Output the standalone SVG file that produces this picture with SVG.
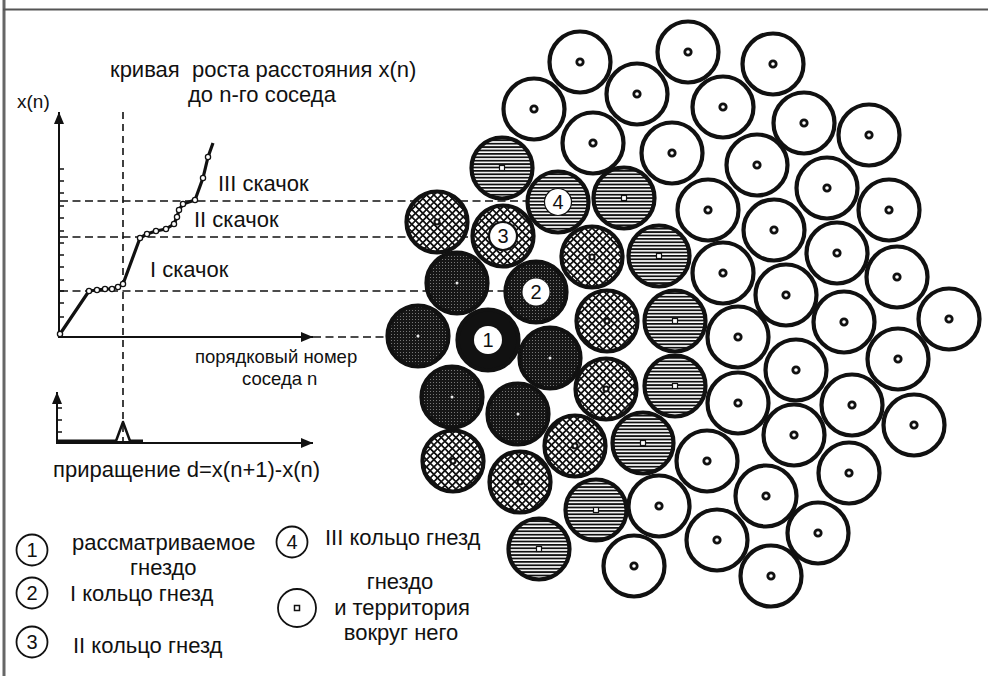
<svg xmlns="http://www.w3.org/2000/svg" width="988" height="676" viewBox="0 0 988 676">
<defs>
<style>
text{font-family:"Liberation Sans",Arial,sans-serif;fill:#111}
.t22{font-size:22px}
.t18{font-size:18.5px}
.t19{font-size:19px}
.num{font-size:20px;text-anchor:middle}
.ax{stroke:#111;stroke-width:2;fill:none}
.tk{stroke:#111;stroke-width:1.5}
.dash{stroke:#111;stroke-width:1.6;stroke-dasharray:8 4.5;fill:none}
.vdash{stroke:#111;stroke-width:1.6;stroke-dasharray:7 5;fill:none}
.ring{stroke:#111;stroke-width:4.2}
.w{fill:#fff}
.s{fill:url(#hs)}
.c{fill:url(#xh)}
.d{fill:url(#dk)}
.b{fill:#111}
.cw{fill:#fff;stroke:#111;stroke-width:2.8}
.cs{fill:#fff;stroke:#111;stroke-width:1.2}
.cc{fill:#fff;stroke:#111;stroke-width:2.2}
.cd{fill:#eee}
.lab{fill:#fff}
.lg{fill:#fff;stroke:#111;stroke-width:1.8}
.pt{fill:#fff;stroke:#111;stroke-width:1.3}
</style>
<pattern id="hs" width="6" height="3.4" patternUnits="userSpaceOnUse"><rect width="6" height="3.4" fill="#fff"/><rect width="6" height="1.8" fill="#111"/></pattern>
<pattern id="xh" width="5.2" height="5.2" patternUnits="userSpaceOnUse" patternTransform="rotate(45)"><rect width="5.2" height="5.2" fill="#fff"/><path d="M0 2.6H5.2M2.6 0V5.2" stroke="#111" stroke-width="1.7"/></pattern>
<pattern id="dk" width="3" height="3" patternUnits="userSpaceOnUse"><rect width="3" height="3" fill="#161616"/><rect x="1" y="1" width="1" height="1" fill="#777"/></pattern>
<marker id="ah" markerWidth="12" markerHeight="10" refX="12" refY="5" orient="auto" markerUnits="userSpaceOnUse"><path d="M0 0L12 5L0 10Z" fill="#111"/></marker>
</defs>
<rect width="988" height="676" fill="#fff"/>
<g id="frame">
<line x1="4" y1="0" x2="4" y2="676" stroke="#666" stroke-width="3"/>
<line x1="3" y1="9.5" x2="988" y2="9.5" stroke="#555" stroke-width="2"/>
</g>

<g id="connectors">
<line class="dash" x1="60" y1="201" x2="526" y2="201"/>
<line class="dash" x1="60" y1="237" x2="480" y2="237"/>
<line class="dash" x1="60" y1="291" x2="515" y2="291"/>
<line class="dash" x1="313" y1="337" x2="400" y2="337"/>
<line class="vdash" x1="123" y1="112" x2="123" y2="441"/>
</g>

<g id="chart">
<line class="ax" x1="59" y1="338" x2="59" y2="112" marker-end="url(#ah)"/>
<line class="ax" x1="58" y1="337" x2="313" y2="337" marker-end="url(#ah)"/>
<g class="tk">
<line x1="59" y1="169" x2="64" y2="169"/><line x1="59" y1="181" x2="64" y2="181"/><line x1="59" y1="193" x2="64" y2="193"/><line x1="59" y1="206" x2="64" y2="206"/><line x1="59" y1="218" x2="64" y2="218"/><line x1="59" y1="231" x2="64" y2="231"/><line x1="59" y1="243" x2="64" y2="243"/><line x1="59" y1="255" x2="64" y2="255"/><line x1="59" y1="267" x2="64" y2="267"/><line x1="59" y1="280" x2="64" y2="280"/><line x1="59" y1="291" x2="64" y2="291"/><line x1="59" y1="303" x2="64" y2="303"/><line x1="59" y1="317" x2="64" y2="317"/>
</g>
<polyline points="60,334 89,291 97,290 105,289 112,289 118,287 123,284 140,238 147,234 156,231 166,229 174,224 177,217 179,210 183,204 195,200 203,178 208,157 213,143" fill="none" stroke="#111" stroke-width="3.2" stroke-linejoin="round"/>
<g class="pt">
<circle cx="60" cy="334" r="2.6"/><circle cx="89" cy="291" r="2.6"/><circle cx="97" cy="290" r="2.6"/><circle cx="105" cy="289" r="2.6"/><circle cx="112" cy="289" r="2.6"/><circle cx="118" cy="287" r="2.6"/><circle cx="123" cy="284" r="2.6"/><circle cx="140" cy="238" r="2.6"/><circle cx="147" cy="234" r="2.6"/><circle cx="156" cy="231" r="2.6"/><circle cx="166" cy="229" r="2.6"/><circle cx="174" cy="224" r="2.6"/><circle cx="177" cy="217" r="2.6"/><circle cx="179" cy="210" r="2.6"/><circle cx="183" cy="204" r="2.6"/><circle cx="195" cy="200" r="2.6"/><circle cx="203" cy="178" r="2.6"/><circle cx="208" cy="157" r="2.6"/>
</g>
<text class="t22" x="110" y="77" style="white-space:pre" xml:space="preserve">кривая  роста расстояния x(n)</text>
<text class="t22" x="188" y="102">до n-го соседа</text>
<text class="t19" x="17" y="108">x(n)</text>
<text class="t22" x="218" y="191">III скачок</text>
<text class="t22" x="194" y="227">II скачок</text>
<text class="t22" x="150" y="277">I скачок</text>
<text class="t18" x="195" y="363">порядковый номер</text>
<text class="t18" x="242" y="385">соседа n</text>
</g>

<g id="increment-chart">
<line class="ax" x1="57" y1="444" x2="57" y2="392" marker-end="url(#ah)"/>
<line class="ax" x1="56" y1="443" x2="313" y2="443" marker-end="url(#ah)"/>
<g class="tk"><line x1="57" y1="408" x2="62" y2="408"/><line x1="57" y1="420" x2="62" y2="420"/><line x1="57" y1="432" x2="62" y2="432"/></g>
<line x1="57" y1="441" x2="143" y2="441" stroke="#111" stroke-width="3"/>
<path d="M116 441L123 422L130 441" fill="#fff" stroke="#111" stroke-width="2.5" stroke-linejoin="round"/>
<line class="vdash" x1="123" y1="425" x2="123" y2="441"/>
<text class="t22" x="53" y="477">приращение d=x(n+1)-x(n)</text>
</g>

<g id="nests">
<g id="w1"><circle class="ring w" cx="580" cy="62" r="30.5"/><circle class="cw" cx="580" cy="62" r="3.2"/></g>
<g id="w2"><circle class="ring w" cx="534" cy="109" r="30.5"/><circle class="cw" cx="534" cy="109" r="3.2"/></g>
<g id="w3"><circle class="ring w" cx="637" cy="94" r="30.5"/><circle class="cw" cx="637" cy="94" r="3.2"/></g>
<g id="w4"><circle class="ring w" cx="688" cy="52" r="30.5"/><circle class="cw" cx="688" cy="52" r="3.2"/></g>
<g id="w5"><circle class="ring w" cx="773" cy="64" r="30.5"/><circle class="cw" cx="773" cy="64" r="3.2"/></g>
<g id="w6"><circle class="ring w" cx="723" cy="107" r="30.5"/><circle class="cw" cx="723" cy="107" r="3.2"/></g>
<g id="w7"><circle class="ring w" cx="804" cy="123" r="30.5"/><circle class="cw" cx="804" cy="123" r="3.2"/></g>
<g id="w8"><circle class="ring w" cx="869" cy="135" r="30.5"/><circle class="cw" cx="869" cy="135" r="3.2"/></g>
<g id="w9"><circle class="ring w" cx="593" cy="143" r="30.5"/><circle class="cw" cx="593" cy="143" r="3.2"/></g>
<g id="w10"><circle class="ring w" cx="672" cy="153" r="30.5"/><circle class="cw" cx="672" cy="153" r="3.2"/></g>
<g id="w11"><circle class="ring w" cx="757" cy="165" r="30.5"/><circle class="cw" cx="757" cy="165" r="3.2"/></g>
<g id="w12"><circle class="ring w" cx="827" cy="188" r="30.5"/><circle class="cw" cx="827" cy="188" r="3.2"/></g>
<g id="w13"><circle class="ring w" cx="708" cy="210" r="30.5"/><circle class="cw" cx="708" cy="210" r="3.2"/></g>
<g id="w14"><circle class="ring w" cx="889" cy="210" r="30.5"/><circle class="cw" cx="889" cy="210" r="3.2"/></g>
<g id="w15"><circle class="ring w" cx="774" cy="230" r="30.5"/><circle class="cw" cx="774" cy="230" r="3.2"/></g>
<g id="w16"><circle class="ring w" cx="837" cy="253" r="30.5"/><circle class="cw" cx="837" cy="253" r="3.2"/></g>
<g id="w17"><circle class="ring w" cx="723" cy="273" r="30.5"/><circle class="cw" cx="723" cy="273" r="3.2"/></g>
<g id="w18"><circle class="ring w" cx="897" cy="277" r="30.5"/><circle class="cw" cx="897" cy="277" r="3.2"/></g>
<g id="w19"><circle class="ring w" cx="786" cy="295" r="30.5"/><circle class="cw" cx="786" cy="295" r="3.2"/></g>
<g id="w20"><circle class="ring w" cx="844" cy="322" r="30.5"/><circle class="cw" cx="844" cy="322" r="3.2"/></g>
<g id="w21"><circle class="ring w" cx="949" cy="319" r="30.5"/><circle class="cw" cx="949" cy="319" r="3.2"/></g>
<g id="w22"><circle class="ring w" cx="738" cy="337" r="30.5"/><circle class="cw" cx="738" cy="337" r="3.2"/></g>
<g id="w23"><circle class="ring w" cx="898" cy="359" r="30.5"/><circle class="cw" cx="898" cy="359" r="3.2"/></g>
<g id="w24"><circle class="ring w" cx="796" cy="370" r="30.5"/><circle class="cw" cx="796" cy="370" r="3.2"/></g>
<g id="w25"><circle class="ring w" cx="738" cy="403" r="30.5"/><circle class="cw" cx="738" cy="403" r="3.2"/></g>
<g id="w26"><circle class="ring w" cx="852" cy="405" r="30.5"/><circle class="cw" cx="852" cy="405" r="3.2"/></g>
<g id="w27"><circle class="ring w" cx="914" cy="425" r="30.5"/><circle class="cw" cx="914" cy="425" r="3.2"/></g>
<g id="w28"><circle class="ring w" cx="794" cy="435" r="30.5"/><circle class="cw" cx="794" cy="435" r="3.2"/></g>
<g id="w29"><circle class="ring w" cx="707" cy="461" r="30.5"/><circle class="cw" cx="707" cy="461" r="3.2"/></g>
<g id="w30"><circle class="ring w" cx="849" cy="473" r="30.5"/><circle class="cw" cx="849" cy="473" r="3.2"/></g>
<g id="w31"><circle class="ring w" cx="766" cy="496" r="30.5"/><circle class="cw" cx="766" cy="496" r="3.2"/></g>
<g id="w32"><circle class="ring w" cx="659" cy="506" r="30.5"/><circle class="cw" cx="659" cy="506" r="3.2"/></g>
<g id="w33"><circle class="ring w" cx="818" cy="533" r="30.5"/><circle class="cw" cx="818" cy="533" r="3.2"/></g>
<g id="w34"><circle class="ring w" cx="717" cy="540" r="30.5"/><circle class="cw" cx="717" cy="540" r="3.2"/></g>
<g id="w35"><circle class="ring w" cx="634" cy="566" r="30.5"/><circle class="cw" cx="634" cy="566" r="3.2"/></g>
<g id="w36"><circle class="ring w" cx="771" cy="576" r="30.5"/><circle class="cw" cx="771" cy="576" r="3.2"/></g>

<g id="s1"><circle class="ring s" cx="502" cy="168" r="30.5"/><rect class="cs" x="499.5" y="165.5" width="5" height="5"/></g>
<g id="s2"><circle class="ring s" cx="558" cy="202" r="30.5"/><circle class="cs" cx="558" cy="202" r="13.5"/><text class="num" x="558" y="209">4</text></g>
<g id="s3"><circle class="ring s" cx="624" cy="198" r="30.5"/><rect class="cs" x="621.5" y="195.5" width="5" height="5"/></g>
<g id="s4"><circle class="ring s" cx="659" cy="256" r="30.5"/><rect class="cs" x="656.5" y="253.5" width="5" height="5"/></g>
<g id="s5"><circle class="ring s" cx="675" cy="321" r="30.5"/><rect class="cs" x="672.5" y="318.5" width="5" height="5"/></g>
<g id="s6"><circle class="ring s" cx="675" cy="386" r="30.5"/><rect class="cs" x="672.5" y="383.5" width="5" height="5"/></g>
<g id="s7"><circle class="ring s" cx="643" cy="443" r="30.5"/><rect class="cs" x="640.5" y="440.5" width="5" height="5"/></g>
<g id="s8"><circle class="ring s" cx="596" cy="510" r="30.5"/><rect class="cs" x="593.5" y="507.5" width="5" height="5"/></g>
<g id="s9"><circle class="ring s" cx="539" cy="549" r="30.5"/><rect class="cs" x="536.5" y="546.5" width="5" height="5"/></g>

<g id="c1"><circle class="ring c" cx="437" cy="222" r="30.5"/><circle class="cc" cx="437" cy="222" r="2.5"/></g>
<g id="c2"><circle class="ring c" cx="503" cy="236" r="30.5"/><circle class="cc" cx="503" cy="236" r="14"/><text class="num" x="503" y="243">3</text></g>
<g id="c3"><circle class="ring c" cx="592" cy="257" r="30.5"/><circle class="cc" cx="592" cy="257" r="2.5"/></g>
<g id="c4"><circle class="ring c" cx="607" cy="321" r="30.5"/><circle class="cc" cx="607" cy="321" r="2.5"/></g>
<g id="c5"><circle class="ring c" cx="606" cy="389" r="30.5"/><circle class="cc" cx="606" cy="389" r="2.5"/></g>
<g id="c6"><circle class="ring c" cx="575" cy="446" r="30.5"/><circle class="cc" cx="575" cy="446" r="2.5"/></g>
<g id="c7"><circle class="ring c" cx="453" cy="461" r="30.5"/><circle class="cc" cx="453" cy="461" r="2.5"/></g>
<g id="c8"><circle class="ring c" cx="520" cy="482" r="30.5"/><circle class="cc" cx="520" cy="482" r="2.5"/></g>

<g id="d1"><circle class="ring d" cx="457" cy="283" r="30.5"/><circle class="cd" cx="457" cy="283" r="1.5"/></g>
<g id="d2"><circle class="ring d" cx="536" cy="292" r="30.5"/><circle class="lab" cx="536" cy="292" r="13.5"/><text class="num" x="536" y="299">2</text></g>
<g id="d3"><circle class="ring d" cx="418" cy="336" r="30.5"/><circle class="cd" cx="418" cy="336" r="1.5"/></g>
<g id="d4"><circle class="ring d" cx="550" cy="358" r="30.5"/><circle class="cd" cx="550" cy="358" r="1.5"/></g>
<g id="d5"><circle class="ring d" cx="452" cy="397" r="30.5"/><circle class="cd" cx="452" cy="397" r="1.5"/></g>
<g id="d6"><circle class="ring d" cx="518" cy="414" r="30.5"/><circle class="cd" cx="518" cy="414" r="1.5"/></g>

<g id="b1"><circle class="ring b" cx="488" cy="340" r="30.5"/><circle class="lab" cx="488" cy="340" r="14"/><text class="num" x="488" y="347">1</text></g>
</g>

<g id="legend">
<g id="lg1"><circle class="lg" cx="32" cy="550" r="15.5"/><text class="num" x="32" y="557">1</text><text class="t22" x="72" y="550">рассматриваемое</text><text class="t22" x="130" y="575">гнездо</text></g>
<g id="lg2"><circle class="lg" cx="32" cy="593" r="15.5"/><text class="num" x="32" y="600">2</text><text class="t22" x="70" y="601">I кольцо гнезд</text></g>
<g id="lg3"><circle class="lg" cx="32" cy="642" r="15.5"/><text class="num" x="32" y="649">3</text><text class="t22" x="73" y="653">II кольцо гнезд</text></g>
<g id="lg4"><circle class="lg" cx="292" cy="542" r="15.5"/><text class="num" x="292" y="549">4</text><text class="t22" x="325" y="545">III кольцо гнезд</text></g>
<g id="lg5"><circle class="lg" cx="297" cy="608" r="19"/><rect x="294.5" y="605.5" width="5" height="5" fill="#fff" stroke="#111" stroke-width="1.5"/>
<text class="t22" x="400" y="589" text-anchor="middle">гнездо</text><text class="t22" x="402" y="615" text-anchor="middle">и территория</text><text class="t22" x="401" y="640" text-anchor="middle">вокруг него</text></g>
</g>
</svg>
